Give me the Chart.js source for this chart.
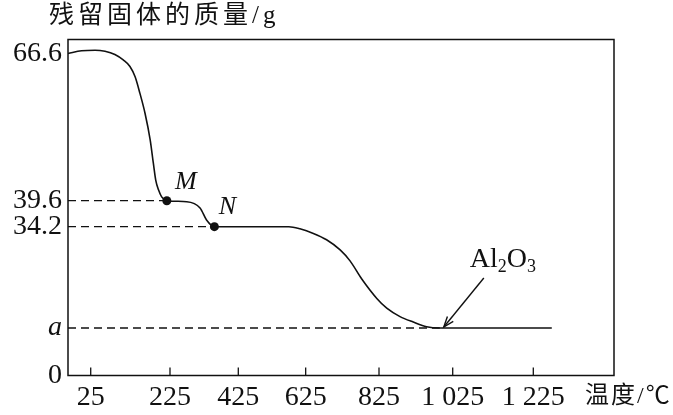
<!DOCTYPE html>
<html>
<head>
<meta charset="utf-8">
<script src="https://cdn.jsdelivr.net/npm/chart.js@4.4.0/dist/chart.umd.min.js"></script>
<style>
  html, body { margin: 0; padding: 0; background: #fff; }
  #wrap { width: 673px; height: 415px; }
</style>
</head>
<body>
<div id="wrap"><canvas id="massChart" width="673" height="415"></canvas></div>
<script>
// ---------- Data ----------
const temps  = [0, 15, 36, 61, 86, 107, 124, 137, 149, 162, 175, 183, 189, 196, 204, 217,
                274, 313, 332, 355,
                575, 608, 646, 682, 719, 746, 778, 819, 846, 882, 918, 954, 990, 1272];
const masses = [66.7, 67.2, 67.3, 67.1, 66.5, 65.5, 64.3, 62.4, 59.4, 55.7, 50.8, 46.5, 43.4, 41.6, 40.3, 39.6,
                39.4, 38.1, 35.6, 34.2,
                34.2, 33.7, 32.6, 31.1, 28.7, 26.1, 21.8, 17.2, 14.9, 12.9, 11.6, 10.5, 10.2, 10.2];

const markNames  = ['M', 'N'];
const markTemps  = [217, 355];
const markMasses = [39.6, 34.2];

const oxideTemp = 990;   // where the curve reaches Al2O3
const oxideMass = 10.2;  // "a"

const xTicks = [25, 225, 425, 625, 825, 1025, 1225];
const yTicks = [0, 10.2, 34.2, 39.6, 66.6];
const yTickLabels = ['0', 'a', '34.2', '39.6', '66.6'];

const INK = '#111';
const SERIF = '"Liberation Serif", "Times New Roman", serif';
const CJK = '"Liberation Serif", "Noto Sans CJK SC", sans-serif';

// ---------- Sketch scale ----------
// the drawing is not to scale, so each axis is a piecewise linear scale:
// knotValues sit at knotPos (0 = start of the axis, 1 = end)
class SketchScale extends Chart.LinearScale {
  toDecimal(v) {
    const vals = this.options.knotValues, pos = this.options.knotPos;
    let i = 1;
    while (i < vals.length - 1 && v > vals[i]) i++;
    const t = (v - vals[i - 1]) / (vals[i] - vals[i - 1]);
    return pos[i - 1] + t * (pos[i] - pos[i - 1]);
  }
  getPixelForValue(value) {
    return this.getPixelForDecimal(this.toDecimal(value));
  }
  getValueForPixel(pixel) {
    const d = this.getDecimalForPixel(pixel);
    const vals = this.options.knotValues, pos = this.options.knotPos;
    let i = 1;
    while (i < pos.length - 1 && d > pos[i]) i++;
    const t = (d - pos[i - 1]) / (pos[i] - pos[i - 1]);
    return vals[i - 1] + t * (vals[i] - vals[i - 1]);
  }
}
SketchScale.id = 'sketch';
SketchScale.defaults = {};
Chart.register(SketchScale);

function fmtTemp(v) {
  return String(v).replace(/(\d)(\d{3})$/, '$1 $2');
}

// ---------- Decorations ----------
const decor = {
  id: 'decor',
  afterDraw(chart) {
    const { ctx, chartArea: a, scales } = chart;
    const x = scales.x, y = scales.y;
    ctx.save();
    ctx.strokeStyle = INK;
    ctx.fillStyle = INK;

    // frame
    ctx.lineWidth = 1.5;
    ctx.strokeRect(a.left, a.top, a.right - a.left, a.bottom - a.top);

    // inner tick marks on the temperature axis
    ctx.lineWidth = 1.3;
    xTicks.forEach(t => {
      const px = x.getPixelForValue(t);
      ctx.beginPath();
      ctx.moveTo(px, a.bottom);
      ctx.lineTo(px, a.bottom - 8);
      ctx.stroke();
    });

    // M / N labels
    ctx.font = 'italic 26px ' + SERIF;
    ctx.textAlign = 'center';
    ctx.textBaseline = 'middle';
    const offs = [[19, -19], [13, -20]];
    markNames.forEach((n, i) => {
      const px = x.getPixelForValue(markTemps[i]);
      const py = y.getPixelForValue(markMasses[i]);
      ctx.fillText(n, px + offs[i][0], py + offs[i][1]);
    });

    // Al2O3 label and arrow
    const tx = x.getPixelForValue(oxideTemp) + 4;
    const ty = y.getPixelForValue(oxideMass) - 1;
    ctx.textAlign = 'left';
    ctx.textBaseline = 'alphabetic';
    let lx = tx + 26;
    const base = ty - 60;
    const parts = [['Al', 28, 0], ['2', 18, 5], ['O', 28, 0], ['3', 18, 5]];
    parts.forEach(([s, size, dy]) => {
      ctx.font = size + 'px ' + SERIF;
      ctx.fillText(s, lx, base + dy);
      lx += ctx.measureText(s).width;
    });

    const sx = tx + 40, sy = ty - 49;
    ctx.lineWidth = 1.4;
    ctx.beginPath();
    ctx.moveTo(sx, sy);
    ctx.lineTo(tx, ty);
    ctx.stroke();
    const ang = Math.atan2(ty - sy, tx - sx);
    ctx.beginPath();
    ctx.moveTo(tx - 11 * Math.cos(ang - 0.35), ty - 11 * Math.sin(ang - 0.35));
    ctx.lineTo(tx, ty);
    ctx.lineTo(tx - 11 * Math.cos(ang + 0.35), ty - 11 * Math.sin(ang + 0.35));
    ctx.stroke();

    // axis titles
    ctx.font = '25px ' + CJK;
    ctx.letterSpacing = '4px';
    ctx.fillText('残留固体的质量/g', 49, 23);
    ctx.font = '24px ' + CJK;
    ctx.letterSpacing = '2px';
    ctx.fillText('温度/℃', 585, 403);
    ctx.restore();
  }
};

// ---------- Chart ----------
const guide = (t, m) => ({
  data: [{ x: 0, y: m }, { x: t, y: m }],
  borderColor: INK,
  borderWidth: 1.3,
  borderDash: [8, 5],
  pointRadius: 0
});

const ctx = document.getElementById('massChart').getContext('2d');
new Chart(ctx, {
  type: 'line',
  data: {
    datasets: [
      {
        data: temps.map((t, i) => ({ x: t, y: masses[i] })),
        borderColor: INK,
        borderWidth: 1.6,
        pointRadius: 0,
        cubicInterpolationMode: 'monotone',
        fill: false
      },
      guide(markTemps[0], markMasses[0]),
      guide(markTemps[1], markMasses[1]),
      guide(oxideTemp, oxideMass),
      {
        data: markTemps.map((t, i) => ({ x: t, y: markMasses[i] })),
        showLine: false,
        pointRadius: 4.5,
        pointBackgroundColor: INK,
        pointBorderColor: INK,
        pointBorderWidth: 0
      }
    ]
  },
  options: {
    responsive: false,
    devicePixelRatio: 1,
    animation: false,
    layout: { padding: { top: 39.5, right: 59, left: 0, bottom: 0 } },
    plugins: { legend: { display: false }, tooltip: { enabled: false } },
    scales: {
      x: {
        type: 'sketch',
        min: 0,
        max: 1430,
        knotValues: [0, 25, 225, 425, 625, 825, 1025, 1225, 1430],
        knotPos: [0, 0.0416, 0.1868, 0.3119, 0.4353, 0.5696, 0.7046, 0.8522, 1],
        grid: { display: false, drawTicks: false },
        border: { display: false },
        ticks: {
          autoSkip: false,
          maxRotation: 0,
          padding: 5,
          color: INK,
          font: { family: SERIF, size: 28 },
          callback: v => fmtTemp(v)
        },
        afterBuildTicks: s => { s.ticks = xTicks.map(v => ({ value: v })); },
        afterFit: s => { s.height = 39.5; }
      },
      y: {
        type: 'sketch',
        min: 0,
        max: 69.3,
        knotValues: [0, 10.2, 34.2, 39.6, 66.6, 69.3],
        knotPos: [0, 0.1414, 0.4429, 0.5202, 0.9568, 1],
        grid: { display: false, drawTicks: false },
        border: { display: false },
        ticks: {
          autoSkip: false,
          padding: 6,
          color: INK,
          font: c => ({ family: SERIF, size: 28, style: c.tick && c.tick.value === oxideMass ? 'italic' : 'normal' }),
          callback: (v, i) => yTickLabels[i]
        },
        afterBuildTicks: s => { s.ticks = yTicks.map(v => ({ value: v })); },
        afterFit: s => { s.width = 68; }
      }
    }
  },
  plugins: [decor]
});
</script>
</body>
</html>
